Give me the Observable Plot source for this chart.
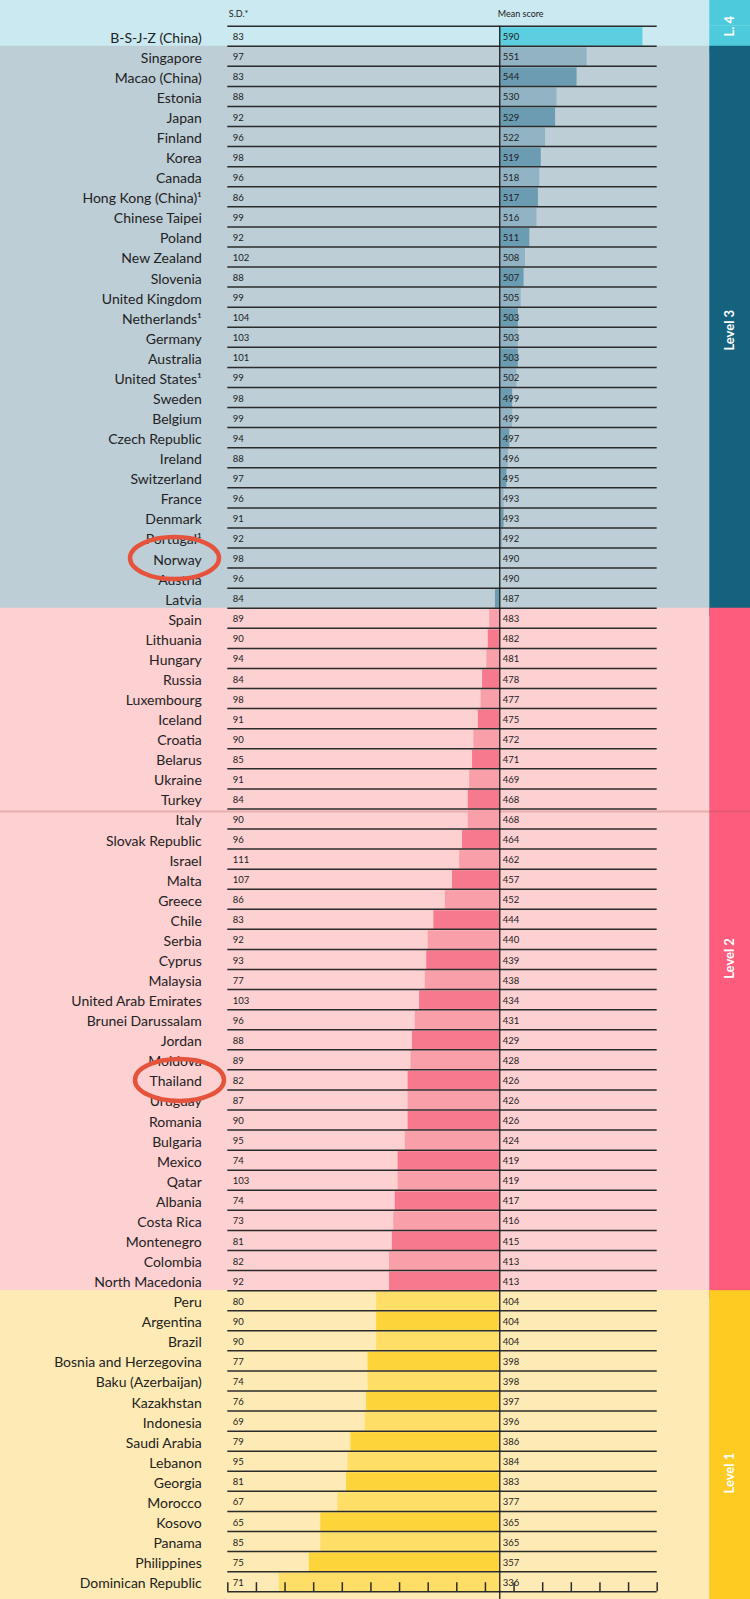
<!DOCTYPE html>
<html>
<head>
<meta charset="utf-8">
<script src="https://cdn.jsdelivr.net/npm/d3@7"></script>
<script src="https://cdn.jsdelivr.net/npm/@observablehq/plot@0.6"></script>
<style>
html, body { margin: 0; padding: 0; background: #cae9f0; }
#chart svg { display: block; }
</style>
</head>
<body>
<div id="chart"></div>
<script>
// ---------- DATA ----------
const countries = ["B-S-J-Z (China)","Singapore","Macao (China)","Estonia","Japan","Finland","Korea","Canada","Hong Kong (China)¹","Chinese Taipei","Poland","New Zealand","Slovenia","United Kingdom","Netherlands¹","Germany","Australia","United States¹","Sweden","Belgium","Czech Republic","Ireland","Switzerland","France","Denmark","Portugal¹","Norway","Austria","Latvia","Spain","Lithuania","Hungary","Russia","Luxembourg","Iceland","Croatia","Belarus","Ukraine","Turkey","Italy","Slovak Republic","Israel","Malta","Greece","Chile","Serbia","Cyprus","Malaysia","United Arab Emirates","Brunei Darussalam","Jordan","Moldova","Thailand","Uruguay","Romania","Bulgaria","Mexico","Qatar","Albania","Costa Rica","Montenegro","Colombia","North Macedonia","Peru","Argentina","Brazil","Bosnia and Herzegovina","Baku (Azerbaijan)","Kazakhstan","Indonesia","Saudi Arabia","Lebanon","Georgia","Morocco","Kosovo","Panama","Philippines","Dominican Republic"];
const sdValues = [83,97,83,88,92,96,98,96,86,99,92,102,88,99,104,103,101,99,98,99,94,88,97,96,91,92,98,96,84,89,90,94,84,98,91,90,85,91,84,90,96,111,107,86,83,92,93,77,103,96,88,89,82,87,90,95,74,103,74,73,81,82,92,80,90,90,77,74,76,69,79,95,81,67,65,85,75,71];
const meanScores = [590,551,544,530,529,522,519,518,517,516,511,508,507,505,503,503,503,502,499,499,497,496,495,493,493,492,490,490,487,483,482,481,478,477,475,472,471,469,468,468,464,462,457,452,444,440,439,438,434,431,429,428,426,426,426,424,419,419,417,416,415,413,413,404,404,404,398,398,397,396,386,384,383,377,365,365,357,336];
const levelNames = ["L. 4","Level 3","Level 2","Level 1"];
const levelLowerBounds = [558.73, 484.14, 409.54, -Infinity];
const highlighted = ["Norway","Thailand"];
const headerLabels = ["S.D.*","Mean score"];
const xDomain = [300, 600];
const xTicks = [300,320,340,360,380,400,420,440,460,480,500,520,540,560,580,600];
const referenceScore = 490;

// ---------- STYLE ----------
const W = 750, H = 1599;
const font = "Lato, 'Open Sans', sans-serif";
const bgColors    = ["#cae9f0","#bdced7","#fdd0d1","#feeab4"];
const stripColors = ["#4ecadd","#15627e","#fd5c7c","#fdcb21"];
const barDark     = ["#5bcfe0","#6b9cb2","#f7798e","#fdd43a"];
const barLight    = ["#5bcfe0","#92b3c3","#f99fa9","#fede66"];
const levelLabelDy = [-10, 3, 9, 32];
const highlightDx = [174, 179];
const ink = "#222";

// ---------- DERIVED ----------
const rows = countries.map((c, i) => ({
  country: c, i, sd: sdValues[i], mean: meanScores[i],
  level: levelLowerBounds.findIndex(b => meanScores[i] >= b)
}));
const n = rows.length;
const levels = levelNames.map((name, k) => {
  const r = rows.filter(d => d.level === k);
  return {name, k, start: r[0].i, end: r[r.length - 1].i + 1};
});

const ellipseSymbol = {
  draw(ctx) {
    const rx = 44.5, ry = 21, k = 0.5523;
    ctx.moveTo(rx, 0);
    ctx.bezierCurveTo(rx, ry * k, rx * k, ry, 0, ry);
    ctx.bezierCurveTo(-rx * k, ry, -rx, ry * k, -rx, 0);
    ctx.bezierCurveTo(-rx, -ry * k, -rx * k, -ry, 0, -ry);
    ctx.bezierCurveTo(rx * k, -ry, rx, -ry * k, rx, 0);
    ctx.closePath();
  }
};

const marks = [
  // level backgrounds
  Plot.rect(levels, {y1: "start", y2: "end", insetRight: 40.7, insetBottom: -8, fill: d => bgColors[d.k]}),
  Plot.rect([levels[0]], {y1: "start", y2: "start", insetTop: -26, insetRight: 40.7, fill: d => bgColors[d.k]}),
  // side strip
  Plot.rect(levels, {y1: "start", y2: "end", insetLeft: 709.3, insetBottom: -8, fill: d => stripColors[d.k]}),
  Plot.rect([levels[0]], {y1: "start", y2: "start", insetTop: -26, insetLeft: 709.3, fill: d => stripColors[d.k]}),
  // faint seam in the source picture
  Plot.ruleY([rows.find(d => d.country === "Italy").i], {dy: 2.5, stroke: "#a84a55", strokeOpacity: 0.25, strokeWidth: 2}),
  // bars
  Plot.rect(rows, {
    x1: referenceScore, x2: "mean", y1: "i", y2: d => d.i + 1,
    insetTop: 1.5, insetBottom: 0,
    fill: d => (d.i % 2 ? barLight : barDark)[d.level]
  }),
  // row lines (last one is the axis baseline)
  Plot.ruleY(d3.range(n + 1), {x1: xDomain[0], x2: xDomain[1], stroke: "#2b2b2b", strokeWidth: 1.5}),
  // ticks
  Plot.ruleX(xTicks, {x: d => d, y1: n, y2: n, insetTop: -9, stroke: "#2b2b2b", strokeWidth: 1.5}),
  // reference line
  Plot.ruleX([referenceScore], {y1: 0, y2: n, insetBottom: -9, stroke: "#1a1a1a", strokeWidth: 1.3}),
  // header labels
  Plot.text([headerLabels[0]], {x: xDomain[0], y: 0, text: d => d, textAnchor: "start", dx: 1, dy: -12, fontSize: 9, fontFamily: font, fill: ink}),
  Plot.text([headerLabels[1]], {x: referenceScore, y: 0, text: d => d, textAnchor: "start", dx: -2, dy: -12, fontSize: 9, fontFamily: font, fill: ink}),
  // country labels
  Plot.text(rows, {x: xDomain[0], y: d => d.i + 0.5, text: "country", textAnchor: "end", dx: -26, dy: 2, fontSize: 14, fontFamily: font, fill: ink}),
  // SD values
  Plot.text(rows, {x: xDomain[0], y: d => d.i + 0.5, text: d => String(d.sd), textAnchor: "start", dx: 5, dy: 1, fontSize: 9.5, fontFamily: font, fill: ink}),
  // mean values
  Plot.text(rows, {x: referenceScore, y: d => d.i + 0.5, text: d => String(d.mean), textAnchor: "start", dx: 3, dy: 1, fontSize: 9.5, fontFamily: font, fill: ink}),
  // highlight ellipses
  ...highlighted.map((c, j) => Plot.dot(rows.filter(d => d.country === c), {
    y: d => d.i + 0.5, frameAnchor: "left", dx: highlightDx[j],
    symbol: ellipseSymbol, fill: "none", stroke: "#e5533c", strokeWidth: 4.5
  })),
  // side labels
  ...levels.map(l => Plot.text([l], {
    y: d => (d.start + d.end) / 2, frameAnchor: "right", textAnchor: "middle",
    dx: -20.5, dy: levelLabelDy[l.k],
    rotate: -90, text: "name", fill: "white", fontWeight: "bold", fontSize: 13, fontFamily: font
  }))
];

const chart = Plot.plot({
  width: W, height: H, margin: 0,
  x: {domain: xDomain, range: [227.3, 656.7], axis: null},
  y: {domain: [0, n], range: [25.7, 1591.2], axis: null},
  color: {type: "identity"},
  style: {background: "transparent", fontFamily: font, overflow: "visible"},
  marks
});
document.getElementById("chart").append(chart);
</script>
</body>
</html>
